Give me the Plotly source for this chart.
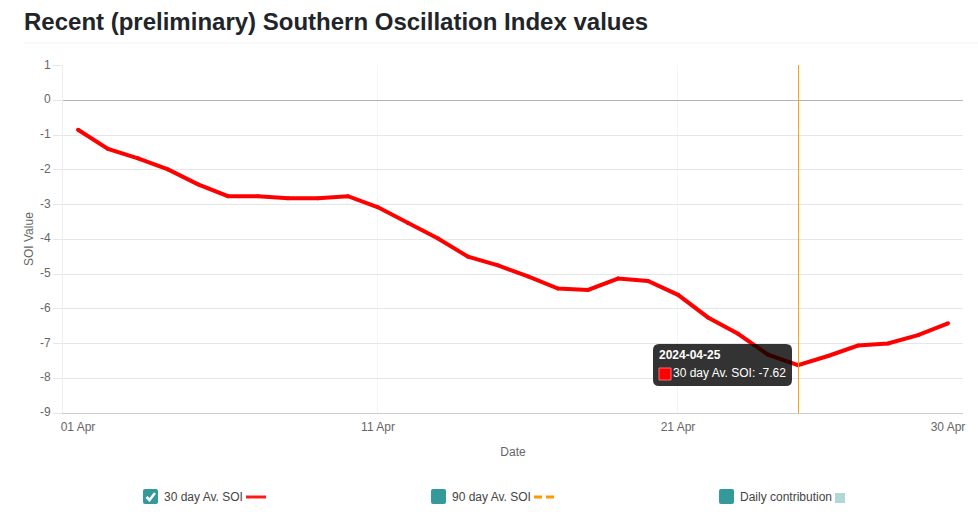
import pandas as pd
import plotly.graph_objects as go

# Values
dates = pd.date_range('2024-04-01', '2024-04-30').strftime('%Y-%m-%d').tolist()
soi_30 = [-0.85, -1.40, -1.67, -1.99, -2.42, -2.76, -2.76, -2.82, -2.82, -2.76,
          -3.08, -3.53, -3.98, -4.50, -4.75, -5.07, -5.42, -5.46, -5.13, -5.20,
          -5.60, -6.25, -6.72, -7.32, -7.62, -7.36, -7.06, -7.00, -6.76, -6.42]
x_ticks = ['2024-04-01', '2024-04-11', '2024-04-21', '2024-04-30']
x_labels = ['01 Apr', '11 Apr', '21 Apr', '30 Apr']
x_grid = ['2024-04-11', '2024-04-21']
y_ticks = list(range(-9, 2))
y_labels = [str(v) for v in y_ticks]  # plain hyphen, not the unicode minus
hover_date = '2024-04-25'
series_name = '30 day Av. SOI'

# Plot area in window pixels
LEFT, RIGHT, TOP, BOTTOM = 63, 963, 65, 413
GRID = '#e6e6e6'
TEAL = '#339999'
HALF_PX = pd.Timedelta(minutes=24)  # half a pixel on the date axis, keeps 1px lines crisp


def px(x):
    return (x - LEFT) / (RIGHT - LEFT)


def py(y):
    return (BOTTOM - y) / (BOTTOM - TOP)


def rounded(x0, y0, x1, y1, r):
    return (f'M {px(x0 + r)} {py(y0)} L {px(x1 - r)} {py(y0)} '
            f'Q {px(x1)} {py(y0)} {px(x1)} {py(y0 + r)} L {px(x1)} {py(y1 - r)} '
            f'Q {px(x1)} {py(y1)} {px(x1 - r)} {py(y1)} L {px(x0 + r)} {py(y1)} '
            f'Q {px(x0)} {py(y1)} {px(x0)} {py(y1 - r)} L {px(x0)} {py(y0 + r)} '
            f'Q {px(x0)} {py(y0)} {px(x0 + r)} {py(y0)} Z')


def box(x0, y0, x1, y1, **kw):
    return dict(type='rect', xref='paper', yref='paper', x0=px(x0), x1=px(x1),
                y0=py(y1), y1=py(y0), **kw)


def hline(x0, x1, y, color, width, dash='solid'):
    return dict(type='line', xref='paper', yref='paper', x0=px(x0), x1=px(x1),
                y0=py(y), y1=py(y), line=dict(color=color, width=width, dash=dash))


def label(x, y, text, size=12, color='#444444', anchor='left', **kw):
    return dict(xref='paper', yref='paper', x=px(x), y=py(y), text=text, showarrow=False,
                xanchor=anchor, yanchor='middle', borderpad=0, borderwidth=0,
                font=dict(family='Liberation Sans', size=size, color=color), **kw)


fig = go.Figure()
fig.add_trace(go.Scatter(x=dates, y=soi_30, mode='lines+markers', name=series_name,
                         line=dict(color='#ff0000', width=4),
                         marker=dict(color='#ff0000', size=4)))

shapes = [hline(24, 978, 43, '#f2f2f2', 1)]

# vertical grid, crosshair
for d in x_grid:
    x = pd.Timestamp(d) - HALF_PX
    shapes.append(dict(type='line', xref='x', yref='paper', x0=x, x1=x, y0=0, y1=1,
                       layer='below', line=dict(color='#f4f4f4', width=1)))
x = pd.Timestamp(hover_date) + HALF_PX
shapes.append(dict(type='line', xref='x', yref='paper', x0=x, x1=x,
                   y0=0, y1=1, line=dict(color='#ffa500', width=1)))

# tooltip
shapes.append(dict(type='path', xref='paper', yref='paper', path=rounded(653, 344, 792, 386, 6),
                   fillcolor='rgba(0,0,0,0.8)', line=dict(width=0)))
shapes.append(box(659, 368, 671, 380, fillcolor='#ff0000', line=dict(color='#ff6a6a', width=1)))

# legend
for x0 in (143, 431, 719):
    shapes.append(dict(type='path', xref='paper', yref='paper',
                       path=rounded(x0, 489, x0 + 15, 504, 2), fillcolor=TEAL, line=dict(width=0)))
shapes.append(dict(type='path', xref='paper', yref='paper',
                   path=f'M {px(146.5)} {py(497)} L {px(149.5)} {py(500)} L {px(155)} {py(493)}',
                   line=dict(color='white', width=2.5)))
shapes.append(hline(246, 266, 497, '#ff1a1a', 3))
shapes.append(hline(534, 554, 497, '#ff9900', 3, dash='8px,4px'))
shapes.append(box(835, 493, 845, 503, fillcolor='#b2d8d6', line=dict(width=0)))

value = soi_30[dates.index(hover_date)]
annotations = [
    label(24, 21, '<b>Recent (preliminary) Southern Oscillation Index values</b>', size=24, color='#212529'),
    label(659, 355, f'<b>{hover_date}</b>', color='white'),
    label(672.5, 373, f'{series_name}: {value:.2f}', color='white'),
    label(164, 497, series_name),
    label(451.5, 497, '90 day Av. SOI'),
    label(740, 497, 'Daily contribution'),
    label(29, 239, 'SOI Value', color='#666666', anchor='center', textangle=-90),
]

fig.update_layout(
    width=978, height=512, margin=dict(l=LEFT, r=978 - RIGHT, t=TOP, b=512 - BOTTOM),
    paper_bgcolor='white', plot_bgcolor='white', showlegend=False,
    font=dict(family='Liberation Sans', size=12, color='#666666'),
    shapes=shapes, annotations=annotations,
    xaxis=dict(type='date', range=['2024-03-31 12:00', '2024-04-30 12:00'],
               tickmode='array', tickvals=x_ticks, ticktext=x_labels, showgrid=False,
               showline=True, linecolor='#cccccc', ticks='', ticklabelstandoff=3,
               title=dict(text='Date', standoff=14, font=dict(size=12, color='#666666'))),
    # top of the range nudged so the gridlines land on the same pixel rows as the original
    yaxis=dict(range=[-9, 1.0144], tickmode='array', tickvals=y_ticks, ticktext=y_labels,
               showgrid=True, gridcolor=GRID, ticklabelshift=-1,
               zeroline=True, zerolinecolor='#b3b3b3', zerolinewidth=1,
               showline=True, linecolor='#eeeeee', ticks='outside', ticklen=9, tickcolor=GRID),
)

fig.write_html('out.html', config=dict(displayModeBar=False),
               post_script="document.body.style.margin='0';")
